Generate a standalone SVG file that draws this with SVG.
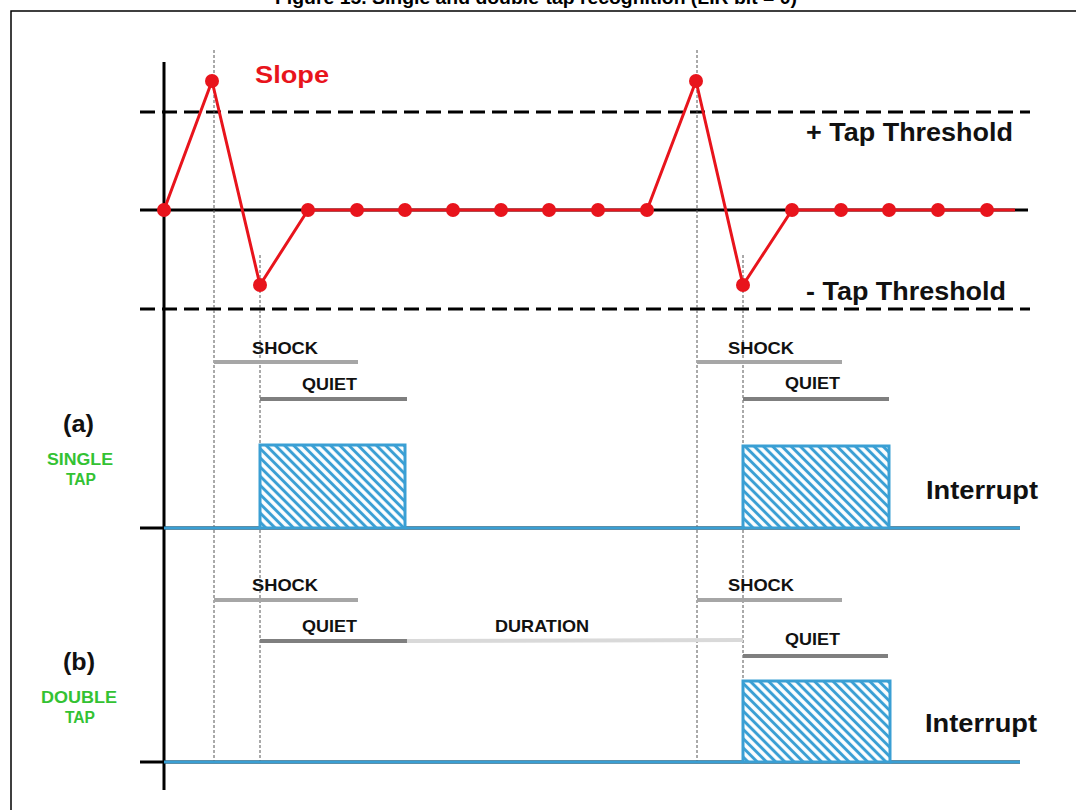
<svg xmlns="http://www.w3.org/2000/svg" width="1076" height="810" viewBox="0 0 1076 810">
  <defs>
    <style>
      text { font-family: "Liberation Sans", Arial, sans-serif; font-weight: bold; }
      .title { font-size: 19px; fill: #000; }
      .thr { font-size: 25px; fill: #111; }
      .slope { font-size: 23px; fill: #e8141c; }
      .lbl { font-size: 17px; fill: #111; }
      .sec { font-size: 23px; fill: #111; }
      .kind { font-size: 16px; fill: #33c233; }
      .irq { font-size: 25px; fill: #111; }
      .axis { stroke: #000; stroke-width: 3; fill: none; }
      .dash { stroke: #000; stroke-width: 3; stroke-dasharray: 15 7; fill: none; }
      .guide { stroke: #555; stroke-width: 1; stroke-dasharray: 3 2; fill: none; }
      .wave { stroke: #e8141c; stroke-width: 3; fill: none; stroke-linejoin: round; }
      .dot { fill: #e8141c; }
      .shock { stroke: #a6a6a6; stroke-width: 4; }
      .quiet { stroke: #7f7f7f; stroke-width: 4; }
      .duration { stroke: #d9d9d9; stroke-width: 4; }
      .sig { stroke: #3a9fd4; stroke-width: 3; fill: none; }
      .pulse { stroke: #3a9fd4; stroke-width: 3; fill: url(#hatch); }
    </style>
    <!-- diagonal hatch used inside the interrupt pulses -->
    <pattern id="hatch" patternUnits="userSpaceOnUse" width="6.5" height="6.5" patternTransform="rotate(-45)">
      <rect width="6.5" height="6.5" fill="#fff"/>
      <line x1="3.25" y1="0" x2="3.25" y2="6.5" stroke="#3a9fd4" stroke-width="3"/>
    </pattern>
  </defs>

  <rect width="1076" height="810" fill="#fff"/>

  <!-- title (clipped by the top edge) -->
  <text class="title" x="536" y="4" text-anchor="middle" textLength="522" lengthAdjust="spacingAndGlyphs">Figure 15. Single and double-tap recognition (LIR bit = 0)</text>

  <!-- frame -->
  <path d="M11 810 V11 H1076" stroke="#000" stroke-width="1.5" fill="none"/>

  <g id="axes">
    <line class="axis" x1="164" y1="62" x2="164" y2="790"/>
    <line class="axis" x1="140" y1="210" x2="1028" y2="210"/>
    <line class="axis" x1="140" y1="528" x2="1020" y2="528"/>
    <line class="axis" x1="140" y1="762" x2="1020" y2="762"/>
    <line class="dash" x1="140" y1="112" x2="1030" y2="112"/>
    <line class="dash" x1="140" y1="309" x2="1030" y2="309"/>
  </g>

  <g id="guides">
    <line class="guide" x1="214" y1="50" x2="214" y2="762"/>
    <line class="guide" x1="260" y1="255" x2="260" y2="762"/>
    <line class="guide" x1="697" y1="50" x2="697" y2="762"/>
    <line class="guide" x1="743" y1="255" x2="743" y2="700"/>
  </g>

  <g id="thresholds">
    <text class="thr" x="806" y="141" textLength="207" lengthAdjust="spacingAndGlyphs">+ Tap Threshold</text>
    <text class="thr" x="806" y="300" textLength="200" lengthAdjust="spacingAndGlyphs">- Tap Threshold</text>
  </g>

  <g id="slope">
    <text class="slope" x="255" y="83" textLength="74" lengthAdjust="spacingAndGlyphs">Slope</text>
    <path class="wave" d="M164 210 L212 81 L260 285 L308 210 L647 210 L696 81 L743 285 L792 210 L1015 210"/>
    <g class="dot">
      <circle cx="164" cy="210" r="7"/>
      <circle cx="212" cy="81" r="7"/>
      <circle cx="260" cy="285" r="7"/>
      <circle cx="308" cy="210" r="7"/>
      <circle cx="357" cy="210" r="7"/>
      <circle cx="405" cy="210" r="7"/>
      <circle cx="453" cy="210" r="7"/>
      <circle cx="501" cy="210" r="7"/>
      <circle cx="549" cy="210" r="7"/>
      <circle cx="598" cy="210" r="7"/>
      <circle cx="647" cy="210" r="7"/>
      <circle cx="696" cy="81" r="7"/>
      <circle cx="743" cy="285" r="7"/>
      <circle cx="792" cy="210" r="7"/>
      <circle cx="841" cy="210" r="7"/>
      <circle cx="889" cy="210" r="7"/>
      <circle cx="938" cy="210" r="7"/>
      <circle cx="987" cy="210" r="7"/>
    </g>
  </g>

  <g id="single-tap">
    <text class="sec" x="63" y="432" textLength="31" lengthAdjust="spacingAndGlyphs">(a)</text>
    <text class="kind" x="80" y="465" text-anchor="middle" textLength="66" lengthAdjust="spacingAndGlyphs">SINGLE</text>
    <text class="kind" x="81" y="485" text-anchor="middle" textLength="30" lengthAdjust="spacingAndGlyphs">TAP</text>

    <line class="shock" x1="214" y1="362" x2="358" y2="362"/>
    <text class="lbl" x="252" y="354" textLength="66" lengthAdjust="spacingAndGlyphs">SHOCK</text>
    <line class="quiet" x1="260" y1="399" x2="407" y2="399"/>
    <text class="lbl" x="302" y="390" textLength="55" lengthAdjust="spacingAndGlyphs">QUIET</text>

    <line class="shock" x1="697" y1="362" x2="842" y2="362"/>
    <text class="lbl" x="728" y="354" textLength="66" lengthAdjust="spacingAndGlyphs">SHOCK</text>
    <line class="quiet" x1="743" y1="399" x2="889" y2="399"/>
    <text class="lbl" x="785" y="389" textLength="55" lengthAdjust="spacingAndGlyphs">QUIET</text>

    <rect class="pulse" x="260" y="445" width="145" height="83"/>
    <rect class="pulse" x="743" y="446" width="146" height="82"/>
    <path class="sig" d="M164 528 H260 M405 528 H743 M889 528 H1020"/>
    <text class="irq" x="926" y="499" textLength="112" lengthAdjust="spacingAndGlyphs">Interrupt</text>
  </g>

  <g id="double-tap">
    <text class="sec" x="63" y="670" textLength="32" lengthAdjust="spacingAndGlyphs">(b)</text>
    <text class="kind" x="79" y="703" text-anchor="middle" textLength="76" lengthAdjust="spacingAndGlyphs">DOUBLE</text>
    <text class="kind" x="80" y="723" text-anchor="middle" textLength="30" lengthAdjust="spacingAndGlyphs">TAP</text>

    <line class="shock" x1="214" y1="600" x2="358" y2="600"/>
    <text class="lbl" x="252" y="591" textLength="66" lengthAdjust="spacingAndGlyphs">SHOCK</text>
    <line class="quiet" x1="260" y1="641" x2="407" y2="641"/>
    <text class="lbl" x="302" y="632" textLength="55" lengthAdjust="spacingAndGlyphs">QUIET</text>
    <line class="duration" x1="407" y1="641" x2="743" y2="640"/>
    <text class="lbl" x="495" y="632" textLength="94" lengthAdjust="spacingAndGlyphs">DURATION</text>

    <line class="shock" x1="697" y1="600" x2="842" y2="600"/>
    <text class="lbl" x="728" y="591" textLength="66" lengthAdjust="spacingAndGlyphs">SHOCK</text>
    <line class="quiet" x1="743" y1="656" x2="888" y2="656"/>
    <text class="lbl" x="785" y="645" textLength="55" lengthAdjust="spacingAndGlyphs">QUIET</text>

    <rect class="pulse" x="743" y="681" width="147" height="81"/>
    <path class="sig" d="M164 762 H743 M890 762 H1020"/>
    <text class="irq" x="925" y="732" textLength="112" lengthAdjust="spacingAndGlyphs">Interrupt</text>
  </g>
</svg>
